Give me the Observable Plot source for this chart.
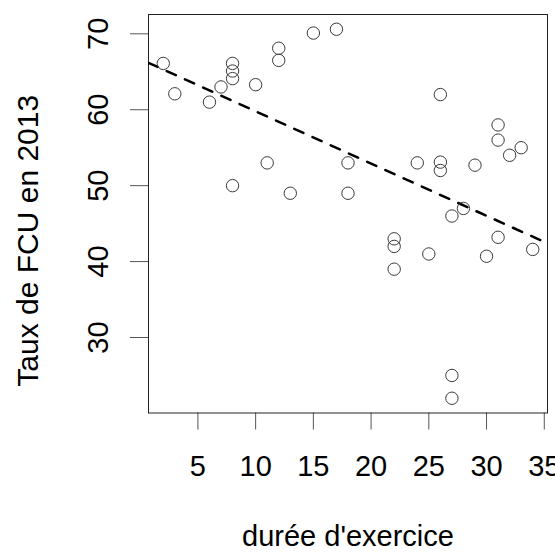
<!DOCTYPE html>
<html><head><meta charset="utf-8">
<script src="https://cdn.jsdelivr.net/npm/d3@7"></script>
<script src="https://cdn.jsdelivr.net/npm/@observablehq/plot@0.6"></script>
<style>
html,body{margin:0;padding:0;background:#fff;}
#chart svg{display:block;font-family:"Liberation Sans",Arial,sans-serif;background:#fff;}
</style>
</head><body><div id="chart"></div>
<script>
// durée d'exercice (x) and Taux de FCU en 2013 (y)
const duree = [2,3,6,7,8,8,8,8,10,11,12,12,13,15,17,18,18,22,22,22,24,25,26,26,26,27,27,27,28,29,30,31,31,31,32,33,34];
const taux  = [66.1,62.1,61.0,63.0,66.1,65.1,64.1,50.0,63.3,53.0,68.1,66.5,49.0,70.1,70.6,53.0,49.0,43.0,42.0,39.0,53.0,41.0,62.0,53.1,52.0,46.0,25.0,22.0,47.0,52.7,40.7,58.0,56.0,43.2,54.0,55.0,41.6];
const xTicks = [5,10,15,20,25,30,35];
const yTicks = [30,40,50,60,70];
// regression line (abline) coefficients
const fitIntercept = 66.67;
const fitSlope = -0.688;
const xTitle = "durée d'exercice";
const yTitle = "Taux de FCU en 2013";

const points = duree.map((d, i) => ({x: d, y: taux[i]}));
const pad = ([a, b]) => [a - 0.04 * (b - a), b + 0.04 * (b - a)];
const xDomain = pad(d3.extent(duree));
const yDomain = pad(d3.extent(taux));
const fitLine = xDomain.map(x => ({x, y: fitIntercept + fitSlope * x}));

const chart = Plot.plot({
  width: 555,
  height: 552,
  marginLeft: 148,
  marginRight: 8,
  marginTop: 14,
  marginBottom: 139.5,
  style: {fontFamily: "'Liberation Sans', Arial, sans-serif", background: "#fff", color: "#000"},
  x: {domain: xDomain},
  y: {domain: yDomain},
  marks: [
    Plot.axisX({ticks: xTicks, tickSize: 17, tickPadding: 25.5, fontSize: 29, label: null, stroke: "#555", fill: "#000"}),
    Plot.axisY({ticks: yTicks, tickSize: 18, tickPadding: 23, tickRotate: -90, fontSize: 29, label: null, stroke: "#555", fill: "#000"}),
    Plot.frame({stroke: "#222", strokeWidth: 1}),
    Plot.line(fitLine, {x: "x", y: "y", stroke: "#000", strokeWidth: 2.5, strokeDasharray: "10,10", strokeLinecap: "round", clip: true}),
    Plot.dot(points, {x: "x", y: "y", r: 6.2, stroke: "#3a3a3a", strokeWidth: 1, fill: "none"}),
    Plot.text([xTitle], {frameAnchor: "bottom", dy: 133, fontSize: 29, lineAnchor: "bottom", textAnchor: "middle", fill: "#000"}),
    Plot.text([yTitle], {frameAnchor: "left", dx: -111, dy: 27, rotate: -90, fontSize: 30, lineAnchor: "bottom", textAnchor: "middle", fill: "#000"})
  ]
});
document.getElementById("chart").appendChild(chart);
</script>
</body></html>
